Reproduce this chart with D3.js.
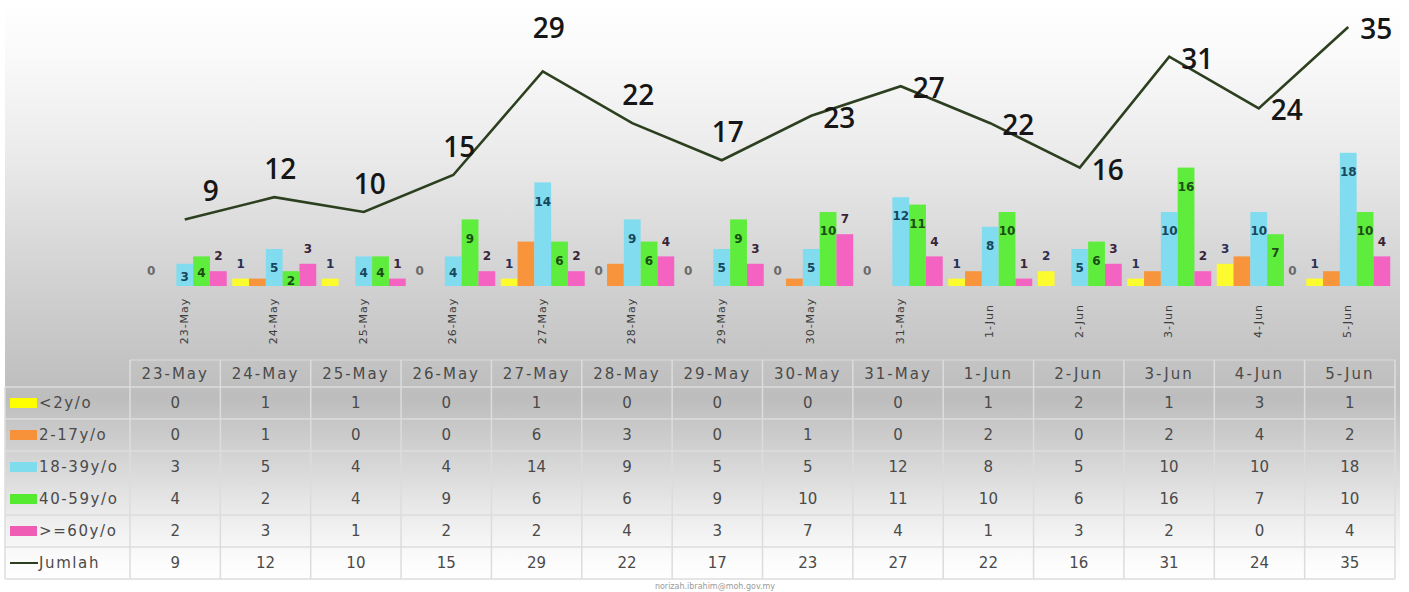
<!DOCTYPE html>
<html>
<head>
<meta charset="utf-8">
<script src="https://cdn.jsdelivr.net/npm/d3@7"></script>
<style>
  body { margin:0; background:#fff; }
  svg { display:block; }
</style>
</head>
<body>
<div id="chart_here"></div>
<script>
// daily cases by age group
var dates     = ["23-May","24-May","25-May","26-May","27-May","28-May","29-May","30-May","31-May","1-Jun","2-Jun","3-Jun","4-Jun","5-Jun"];
var under2    = [0,1,1,0,1,0,0,0,0,1,2,1,3,1];
var age2to17  = [0,1,0,0,6,3,0,1,0,2,0,2,4,2];
var age18to39 = [3,5,4,4,14,9,5,5,12,8,5,10,10,18];
var age40to59 = [4,2,4,9,6,6,9,10,11,10,6,16,7,10];
var age60plus = [2,3,1,2,2,4,3,7,4,1,3,2,0,4];
var jumlah    = [9,12,10,15,29,22,17,23,27,22,16,31,24,35];
var seriesNames = ["<2y/o","2-17y/o","18-39y/o","40-59y/o",">=60y/o"];
var lineName = "Jumlah";

var series = [
  {name: seriesNames[0], values: under2,    color: "#fbfb2e", key: "#ffff00", lab: "#2b2f55", pos: "above"},
  {name: seriesNames[1], values: age2to17,  color: "#f7943c", key: "#f7923a", lab: null,      pos: null},
  {name: seriesNames[2], values: age18to39, color: "#82dcf0", key: "#7fdcec", lab: "#17475a", pos: "inside"},
  {name: seriesNames[3], values: age40to59, color: "#5eed3c", key: "#55ea30", lab: "#1b4d14", pos: "inside"},
  {name: seriesNames[4], values: age60plus, color: "#f462c2", key: "#ee5cb4", lab: "#3a2436", pos: "above"}
]

var W = 1409, H = 592;
var svg = d3.select("#chart_here")
  .append("svg")
  .attr("width", W)
  .attr("height", H)

// background gradient
var defs = svg.append("defs")
var grad = defs.append("linearGradient")
  .attr("id", "bg")
  .attr("x1", 0).attr("y1", 0).attr("x2", 0).attr("y2", 1)
var stops = [[0,"#ffffff"],[0.1,"#f9f9f9"],[0.26,"#ebebeb"],[0.43,"#d7d7d7"],[0.6,"#c5c5c5"],
             [0.68,"#bdbdbd"],[0.8,"#d8d8d8"],[0.9,"#f0f0f0"],[0.96,"#fcfcfc"],[1,"#ffffff"]]
grad.selectAll("stop").data(stops).enter().append("stop")
  .attr("offset", function(d){ return d[0]; })
  .attr("stop-color", function(d){ return d[1]; })

svg.append("rect")
  .attr("x", 5).attr("y", 0)
  .attr("width", 1395).attr("height", 585)
  .attr("fill", "url(#bg)")

// scales
var x = d3.scaleBand()
  .domain(dates)
  .range([140, 1393])
  .padding(0)
var xs = d3.scaleBand()
  .domain(seriesNames)
  .range([0, x.bandwidth()])
  .paddingInner(0)
  .paddingOuter(0.165)
var y = d3.scaleLinear()
  .domain([0, 35])
  .range([286, 27])

// bars
var barData = []
series.forEach(function(s){
  s.values.forEach(function(v, i){
    barData.push({date: dates[i], name: s.name, v: v, s: s})
  })
})

svg.selectAll("mybar")
  .data(barData.filter(function(d){ return d.v > 0; }))
  .enter()
  .append("rect")
    .attr("x", function(d){ return x(d.date) + xs(d.name); })
    .attr("y", function(d){ return y(d.v); })
    .attr("width", xs.bandwidth())
    .attr("height", function(d){ return y(0) - y(d.v); })
    .attr("fill", function(d){ return d.s.color; })

// bar labels
svg.selectAll("mybarlabel")
  .data(barData.filter(function(d){ return d.s.pos != null; }))
  .enter()
  .append("text")
    .attr("x", function(d){ return x(d.date) + xs(d.name) + xs.bandwidth()/2; })
    .attr("y", function(d){
      var top = y(d.v), h = y(0) - y(d.v);
      if (d.s.pos == "inside" && d.v > 0) return top + Math.min(19, h*0.5 + 2);
      return top - 15;
    })
    .attr("dy", "0.35em")
    .attr("text-anchor", "middle")
    .style("font-family", "DejaVu Sans")
    .style("font-weight", "bold")
    .style("font-size", "12px")
    .style("fill", function(d){ return d.v == 0 ? "#6a6a6a" : d.s.lab; })
    .text(function(d){ return d.v; })

// rotated category labels
svg.selectAll("mydatelabel")
  .data(dates)
  .enter()
  .append("text")
    .attr("transform", function(d){ return "translate(" + (x(d) + x.bandwidth()/2 - 1) + ",321)rotate(-90)"; })
    .attr("text-anchor", "middle")
    .attr("dy", "0.35em")
    .style("font-family", "DejaVu Sans")
    .style("font-size", "11px")
    .style("letter-spacing", "1px")
    .style("fill", "#3c3c3c")
    .text(function(d){ return d; })

// total line
var line = d3.line()
  .x(function(d, i){ return x(dates[i]) + x.bandwidth()/2; })
  .y(function(d){ return y(d); })

svg.append("path")
  .datum(jumlah)
  .attr("d", line)
  .attr("fill", "none")
  .attr("stroke", "#2c3f1f")
  .attr("stroke-width", 2.6)
  .attr("stroke-linejoin", "miter")

svg.selectAll("mylinelabel")
  .data(jumlah)
  .enter()
  .append("text")
    .attr("x", function(d, i){ return x(dates[i]) + x.bandwidth()/2 + (i < 7 ? (i == 0 ? 26 : 6) : 28); })
    .attr("y", function(d, i){ return y(d) + (i < 7 ? (i == 4 ? -33 : -18) : 12); })
    .attr("text-anchor", "middle")
    .style("font-family", "Open Sans")
    .style("font-weight", "600")
    .style("font-size", "28px")
    .style("fill", "#161616")
    .text(function(d){ return d; })

// data table
var tx = d3.scaleBand()
  .domain(dates)
  .range([130, 1395])
var rowTop = 387, rowH = 32, headTop = 360;
var rows = series.map(function(s){ return {name: s.name, values: s.values, key: s.key, isLine: false}; })
rows.push({name: lineName, values: jumlah, key: "#2c3f1f", isLine: true})

var gridColor = "#dcdcdc"
var tbl = svg.append("g")

// header cells
tbl.append("line")
  .attr("x1", 130).attr("x2", 1395)
  .attr("y1", headTop).attr("y2", headTop)
  .attr("stroke", gridColor)
tbl.selectAll("myhead")
  .data(dates)
  .enter()
  .append("text")
    .attr("x", function(d){ return tx(d) + tx.bandwidth()/2; })
    .attr("y", (headTop + rowTop)/2)
    .attr("dy", "0.36em")
    .attr("text-anchor", "middle")
    .style("font-family", "DejaVu Sans")
    .style("font-size", "15px")
    .style("letter-spacing", "2px")
    .style("fill", "#4a4a4a")
    .text(function(d){ return d; })

// horizontal lines
tbl.selectAll("myhline")
  .data(d3.range(rows.length + 1))
  .enter()
  .append("line")
    .attr("x1", 5).attr("x2", 1395)
    .attr("y1", function(i){ return rowTop + i*rowH; })
    .attr("y2", function(i){ return rowTop + i*rowH; })
    .attr("stroke", gridColor)
    .attr("stroke-width", 1.5)

// vertical lines
tbl.selectAll("myvline")
  .data(dates.concat(["end"]))
  .enter()
  .append("line")
    .attr("x1", function(d, i){ return 130 + i*tx.step(); })
    .attr("x2", function(d, i){ return 130 + i*tx.step(); })
    .attr("y1", headTop)
    .attr("y2", rowTop + rows.length*rowH)
    .attr("stroke", gridColor)
    .attr("stroke-width", 1.5)
tbl.append("line")
  .attr("x1", 5).attr("x2", 5)
  .attr("y1", rowTop).attr("y2", rowTop + rows.length*rowH)
  .attr("stroke", gridColor)
  .attr("stroke-width", 1.5)

// row legend keys + names
var rowG = tbl.selectAll("myrow")
  .data(rows)
  .enter()
  .append("g")
  .attr("transform", function(d, i){ return "translate(0," + (rowTop + i*rowH + rowH/2) + ")"; })

rowG.filter(function(d){ return !d.isLine; })
  .append("rect")
    .attr("x", 10).attr("y", -5)
    .attr("width", 27).attr("height", 10)
    .attr("fill", function(d){ return d.key; })
rowG.filter(function(d){ return d.isLine; })
  .append("line")
    .attr("x1", 10).attr("x2", 38)
    .attr("y1", 0).attr("y2", 0)
    .attr("stroke", function(d){ return d.key; })
    .attr("stroke-width", 2)

rowG.append("text")
  .attr("x", 39)
  .attr("dy", "0.36em")
  .style("font-family", "DejaVu Sans")
  .style("font-size", "15px")
  .style("letter-spacing", "1.6px")
  .style("fill", "#4a4a4a")
  .text(function(d){ return d.name; })

rowG.selectAll("mycell")
  .data(function(d){ return d.values; })
  .enter()
  .append("text")
    .attr("x", function(v, i){ return tx(dates[i]) + tx.bandwidth()/2; })
    .attr("dy", "0.36em")
    .attr("text-anchor", "middle")
    .style("font-family", "DejaVu Sans")
    .style("font-size", "15px")
    .style("fill", "#4a4a4a")
    .text(function(v){ return v; })

// footer
svg.append("text")
  .attr("x", 715).attr("y", 589)
  .attr("text-anchor", "middle")
  .style("font-family", "DejaVu Sans")
  .style("font-size", "8px")
  .style("fill", "#9a9a9a")
  .text("norizah.ibrahim@moh.gov.my")
</script>
</body>
</html>
